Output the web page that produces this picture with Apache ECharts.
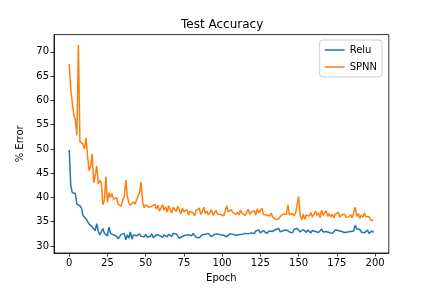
<!DOCTYPE html>
<html>
<head>
<meta charset="utf-8">
<script src="https://cdn.jsdelivr.net/npm/echarts@6/dist/echarts.min.js"></script>
<style>html,body{margin:0;padding:0;background:#fff;}#c{width:432px;height:288px;}</style>
</head>
<body>
<div id="c"></div>
<script>
const titleText = 'Test Accuracy';
const seriesNames = ['Relu', 'SPNN'];
const xTicks = [0, 25, 50, 75, 100, 125, 150, 175, 200];
const yTicks = [30, 35, 40, 45, 50, 55, 60, 65, 70];

const relu = [
49.8, 42.5, 41.0, 40.7, 40.8, 38.6, 38.2, 38.3, 37.8, 36.3,
36.0, 35.6, 35.3, 34.5, 34.7, 34.0, 33.6, 33.2, 34.6, 33.0,
32.3, 32.2, 33.6, 32.6, 32.4, 32.1, 33.9, 32.6, 32.4, 32.3,
32.2, 32.0, 31.5, 31.8, 32.4, 32.0, 32.6, 31.3, 32.3, 31.6,
32.9, 31.4, 32.3, 31.9, 32.1, 32.3, 32.5, 32.0, 31.8, 31.9,
32.4, 31.8, 32.2, 32.0, 32.5, 31.7, 32.1, 32.3, 31.9, 32.2,
32.0, 31.8, 32.3, 32.1, 31.9, 32.4, 32.2, 32.0, 32.6, 32.3,
32.5, 32.1, 31.6, 31.4, 32.0, 32.4, 32.2, 32.5, 32.3, 32.4,
32.1, 32.6, 32.2, 31.8, 31.5, 31.7, 32.0, 32.3, 32.1, 32.4,
32.2, 32.6, 32.3, 31.9, 32.0, 32.4, 32.2, 32.5, 32.1, 32.3,
32.6, 32.2, 32.4, 31.9, 32.3, 32.5, 32.1, 32.4, 32.6, 32.2,
32.5, 32.3, 32.7, 32.4, 32.2, 32.6, 32.8, 32.5, 32.3, 32.7,
32.9, 32.6, 33.1, 32.8, 33.3, 32.7, 32.9, 33.2, 32.8, 32.6,
32.9, 33.1, 32.7, 33.0, 32.8, 33.4, 33.1, 33.6, 32.9, 33.0,
33.2, 32.8, 33.3, 33.5, 32.9, 33.1, 32.7, 33.4, 33.2, 33.6,
33.3, 32.9, 33.1, 33.4, 33.0, 32.8, 33.3, 33.1, 32.7, 33.2,
33.4, 33.0, 33.3, 32.8, 33.1, 33.5, 32.9, 33.2, 33.0, 33.3,
32.8, 33.1, 32.6, 33.0, 33.3, 32.9, 33.2, 33.4, 33.0, 33.1,
32.8, 33.2, 32.9, 33.3, 33.0, 32.7, 33.1, 34.3, 33.5, 33.2,
33.4, 32.9, 33.1, 32.7, 33.0, 33.3, 32.6, 32.9, 33.1, 32.8
];

const spnn = [
67.5, 62.5, 59.5, 57.0, 56.0, 52.8, 71.4, 51.5, 51.2, 51.0,
50.0, 52.3, 48.5, 45.5, 46.5, 49.0, 43.0, 44.5, 46.5, 42.8,
43.5, 43.0, 38.5, 39.5, 44.3, 39.0, 41.0, 40.0, 40.8, 39.6,
39.2, 40.0, 38.6, 38.8, 38.2, 39.5, 40.2, 43.6, 40.3, 38.9,
38.4, 38.2, 39.1, 38.6, 38.2, 40.3, 41.0, 43.2, 39.0, 37.9,
38.5, 38.3, 38.0, 37.8, 38.2, 37.9, 38.6, 37.6, 38.4, 37.2,
37.8, 38.5, 37.4, 38.1, 37.0, 38.3, 37.5, 36.8, 38.0, 37.6,
37.1, 38.2, 37.4, 36.6, 37.8, 37.0, 36.9, 37.5, 36.4, 37.2,
37.6, 36.8, 36.2, 37.3, 36.9, 37.8, 36.5, 37.1, 38.0, 36.7,
37.2, 36.4, 36.9, 37.5, 36.3, 36.8, 37.4, 36.6, 37.0, 36.5,
36.8, 36.2, 37.2, 38.3, 37.0, 36.6, 37.5, 36.9, 37.3, 36.5,
37.0, 36.4, 37.4, 36.7, 37.1, 36.3, 36.9, 37.6, 36.5, 37.0,
36.6, 37.3, 36.4, 37.7, 36.8, 37.0, 37.8, 36.5, 36.9, 36.4,
36.7, 36.2, 36.8, 36.0, 35.8, 35.5, 35.3, 35.6, 36.1, 36.3,
36.6, 36.2, 36.5, 38.5, 36.4, 36.0, 36.7, 36.2, 36.8, 36.4,
40.2, 36.3, 35.4, 36.6, 35.5, 36.4, 36.8, 36.2, 36.9, 36.0,
36.5, 37.2, 36.3, 36.8, 35.8, 37.4, 36.3, 36.6, 37.3, 36.1,
36.7, 36.0, 36.5, 35.8, 36.6, 36.2, 36.9, 35.9, 36.4, 36.1,
36.6, 35.9, 36.3, 36.0, 36.5, 35.8, 36.2, 38.0, 36.1, 36.7,
35.7, 36.4, 35.9, 36.8, 36.0, 35.6, 36.1, 35.4, 35.7, 35.2
];

const toPairs = arr => arr.map((v, i) => [i, v]);
const font = 'DejaVu Sans';
const chart = echarts.init(document.getElementById('c'), null, {renderer: 'canvas'});
chart.setOption({
  animation: false,
  backgroundColor: '#fff',
  title: {
    text: titleText, left: 181, top: 19,
    padding: 0,
    textStyle: {fontFamily: font, fontSize: 12, fontWeight: 'normal', color: '#000'}
  },
  grid: {
    left: 54, right: 43.2, top: 34.6, bottom: 31.7,
    show: true, borderColor: '#000', borderWidth: 0.8, backgroundColor: 'transparent',
    containLabel: false
  },
  legend: {
    orient: 'vertical', right: 50, top: 40,
    data: seriesNames,
    icon: 'rect', itemWidth: 20, itemHeight: 1.5, itemGap: 7,
    padding: [5, 5, 5, 5],
    backgroundColor: 'rgba(255,255,255,0.8)',
    borderColor: '#cccccc', borderWidth: 1, borderRadius: 3,
    textStyle: {fontFamily: font, fontSize: 10, color: '#000', padding: [0, 0, 0, 0]}
  },
  xAxis: {
    type: 'value', min: -9.95, max: 208.95,
    name: 'Epoch', nameLocation: 'middle', nameGap: 20,
    nameTextStyle: {fontFamily: font, fontSize: 10, color: '#000'},
    axisLine: {show: true, onZero: false, lineStyle: {color: '#000', width: 0.8}},
    axisTick: {show: true, length: 3.5, lineStyle: {color: '#000', width: 0.8}, customValues: xTicks},
    axisLabel: {fontFamily: font, fontSize: 10, color: '#000', margin: 5, customValues: xTicks},
    splitLine: {show: false}
  },
  yAxis: {
    type: 'value', min: 28.56, max: 73.55,
    name: '% Error', nameLocation: 'middle', nameGap: 23,
    nameTextStyle: {fontFamily: font, fontSize: 10, color: '#000'},
    axisLine: {show: true, onZero: false, lineStyle: {color: '#000', width: 0.8}},
    axisTick: {show: true, length: 3.5, lineStyle: {color: '#000', width: 0.8}, customValues: yTicks},
    axisLabel: {fontFamily: font, fontSize: 10, color: '#000', margin: 5, customValues: yTicks},
    splitLine: {show: false}
  },
  series: [
    {name: seriesNames[0], type: 'line', data: toPairs(relu), showSymbol: false, symbol: 'none',
     lineStyle: {color: '#1f77b4', width: 1.5}, itemStyle: {color: '#1f77b4'}},
    {name: seriesNames[1], type: 'line', data: toPairs(spnn), showSymbol: false, symbol: 'none',
     lineStyle: {color: '#ff7f0e', width: 1.5}, itemStyle: {color: '#ff7f0e'}}
  ]
});
</script>
</body>
</html>
